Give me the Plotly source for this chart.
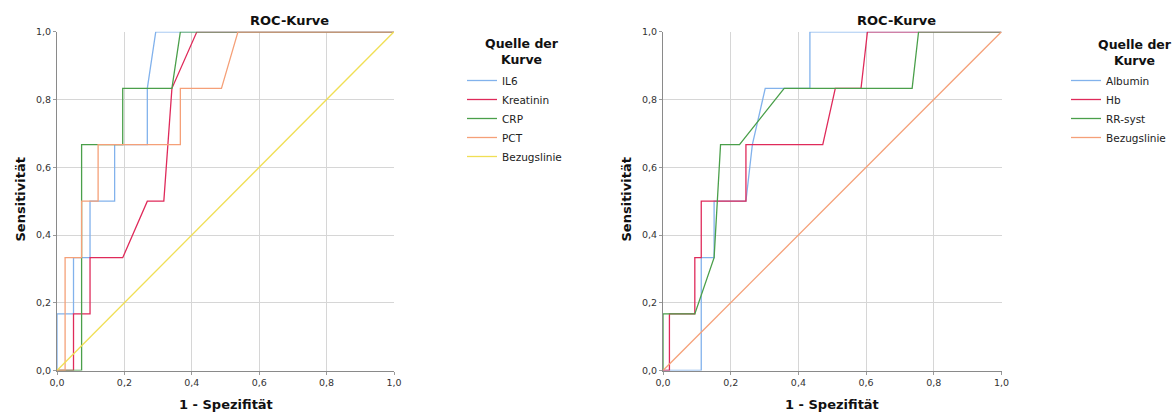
import plotly.graph_objects as go

# ---- ROC coordinates (1 - specificity, sensitivity) ----
il6_fpr = [0, 0, 0.049, 0.049, 0.098, 0.098, 0.171, 0.171, 0.268, 0.268, 0.293, 1.0]
il6_tpr = [0, 0.167, 0.167, 0.333, 0.333, 0.5, 0.5, 0.667, 0.667, 0.833, 1.0, 1.0]

krea_fpr = [0, 0.049, 0.049, 0.098, 0.098, 0.195, 0.268, 0.317, 0.341, 0.415, 1.0]
krea_tpr = [0, 0, 0.167, 0.167, 0.333, 0.333, 0.5, 0.5, 0.833, 1.0, 1.0]

crp_fpr = [0, 0.073, 0.073, 0.195, 0.195, 0.341, 0.366, 1.0]
crp_tpr = [0, 0, 0.667, 0.667, 0.833, 0.833, 1.0, 1.0]

pct_fpr = [0, 0.024, 0.024, 0.073, 0.073, 0.122, 0.122, 0.366, 0.366, 0.488, 0.537, 1.0]
pct_tpr = [0, 0, 0.333, 0.333, 0.5, 0.5, 0.667, 0.667, 0.833, 0.833, 1.0, 1.0]

alb_fpr = [0, 0.113, 0.113, 0.151, 0.151, 0.245, 0.264, 0.302, 0.434, 0.434, 1.0]
alb_tpr = [0, 0, 0.333, 0.333, 0.5, 0.5, 0.667, 0.833, 0.833, 1.0, 1.0]

hb_fpr = [0, 0.019, 0.019, 0.094, 0.094, 0.113, 0.113, 0.245, 0.245, 0.472, 0.509, 0.585, 0.604, 1.0]
hb_tpr = [0, 0, 0.167, 0.167, 0.333, 0.333, 0.5, 0.5, 0.667, 0.667, 0.833, 0.833, 1.0, 1.0]

rr_fpr = [0, 0, 0.094, 0.151, 0.170, 0.226, 0.358, 0.736, 0.755, 1.0]
rr_tpr = [0, 0.167, 0.167, 0.333, 0.667, 0.667, 0.833, 0.833, 1.0, 1.0]

ref_x = [0, 1.0]
ref_y = [0, 1.0]

tick_vals = [0, 0.2, 0.4, 0.6, 0.8, 1.0]
tick_text = ["0,0", "0,2", "0,4", "0,6", "0,8", "1,0"]

BLUE = "#82b2ec"
RED = "#df2a5a"
GREEN = "#4a9f4a"
ORANGE = "#f5a078"
YELLOW = "#f0df55"

FONT = "DejaVu Sans"
W, H = 1174, 414

fig = go.Figure()

def add(x, y, name, color, xa, ya, legend):
    fig.add_trace(go.Scatter(
        x=x, y=y, name=name, mode="lines",
        line=dict(color=color, width=1.3),
        xaxis=xa, yaxis=ya, legend=legend,
    ))

add(il6_fpr, il6_tpr, "IL6", BLUE, "x", "y", "legend")
add(krea_fpr, krea_tpr, "Kreatinin", RED, "x", "y", "legend")
add(crp_fpr, crp_tpr, "CRP", GREEN, "x", "y", "legend")
add(pct_fpr, pct_tpr, "PCT", ORANGE, "x", "y", "legend")
add(ref_x, ref_y, "Bezugslinie", YELLOW, "x", "y", "legend")

add(alb_fpr, alb_tpr, "Albumin", BLUE, "x2", "y2", "legend2")
add(hb_fpr, hb_tpr, "Hb", RED, "x2", "y2", "legend2")
add(rr_fpr, rr_tpr, "RR-syst", GREEN, "x2", "y2", "legend2")
add(ref_x, ref_y, "Bezugslinie", ORANGE, "x2", "y2", "legend2")

def px_x(p):
    return p / W

def px_y(p):
    return 1 - p / H

ydom = [px_y(370.5), px_y(31.8)]

axis_common = dict(
    range=[0, 1], tickvals=tick_vals, ticktext=tick_text,
    showgrid=True, gridcolor="#d6d6d6", gridwidth=1,
    zeroline=False, showline=True, linecolor="#8a8a8a", linewidth=1,
    ticks="outside", ticklen=3, tickcolor="#9a9a9a",
    tickfont=dict(family=FONT, size=9.5, color="#333333"),
    automargin=False, fixedrange=True,
)

layout_axes = dict(
    xaxis=dict(domain=[px_x(57), px_x(394)], anchor="y", **axis_common),
    yaxis=dict(domain=ydom, anchor="x", **axis_common),
    xaxis2=dict(domain=[px_x(663), px_x(1001.5)], anchor="y2", **axis_common),
    yaxis2=dict(domain=ydom, anchor="x2", **axis_common),
)

legend_common = dict(
    font=dict(family=FONT, size=10.5, color="#222222"),
    bgcolor="rgba(0,0,0,0)",
    yanchor="top", xanchor="left",
    itemclick=False, itemdoubleclick=False,
)

annotations = []
for cx in (289, 896):
    annotations.append(dict(
        text="<b>ROC-Kurve</b>", x=px_x(cx), y=px_y(20.5), xref="paper", yref="paper",
        xanchor="center", yanchor="middle", showarrow=False,
        font=dict(family=FONT, size=13, color="#111111")))
for cx in (225.5, 832):
    annotations.append(dict(
        text="<b>1 - Spezifität</b>", x=px_x(cx), y=px_y(404.5), xref="paper", yref="paper",
        xanchor="center", yanchor="middle", showarrow=False,
        font=dict(family=FONT, size=13, color="#111111")))
for cx in (20.5, 626.5):
    annotations.append(dict(
        text="<b>Sensitivität</b>", x=px_x(cx), y=px_y(200), xref="paper", yref="paper",
        xanchor="center", yanchor="middle", showarrow=False, textangle=-90,
        font=dict(family=FONT, size=13, color="#111111")))
# legend headings
for cx, cy in ((521.5, 51), (1135, 52)):
    annotations.append(dict(
        text="<b>Quelle der<br>Kurve</b>", x=px_x(cx), y=px_y(cy), xref="paper", yref="paper",
        xanchor="center", yanchor="middle", align="center", showarrow=False,
        font=dict(family=FONT, size=12.5, color="#111111")))

fig.update_layout(
    width=W, height=H,
    margin=dict(l=0, r=0, t=0, b=0, autoexpand=False),
    paper_bgcolor="white", plot_bgcolor="white",
    showlegend=True,
    legend=dict(x=px_x(462), y=px_y(66), **legend_common),
    legend2=dict(x=px_x(1066), y=px_y(66), **legend_common),
    annotations=annotations,
    **layout_axes,
)

fig.write_html("out.html")
